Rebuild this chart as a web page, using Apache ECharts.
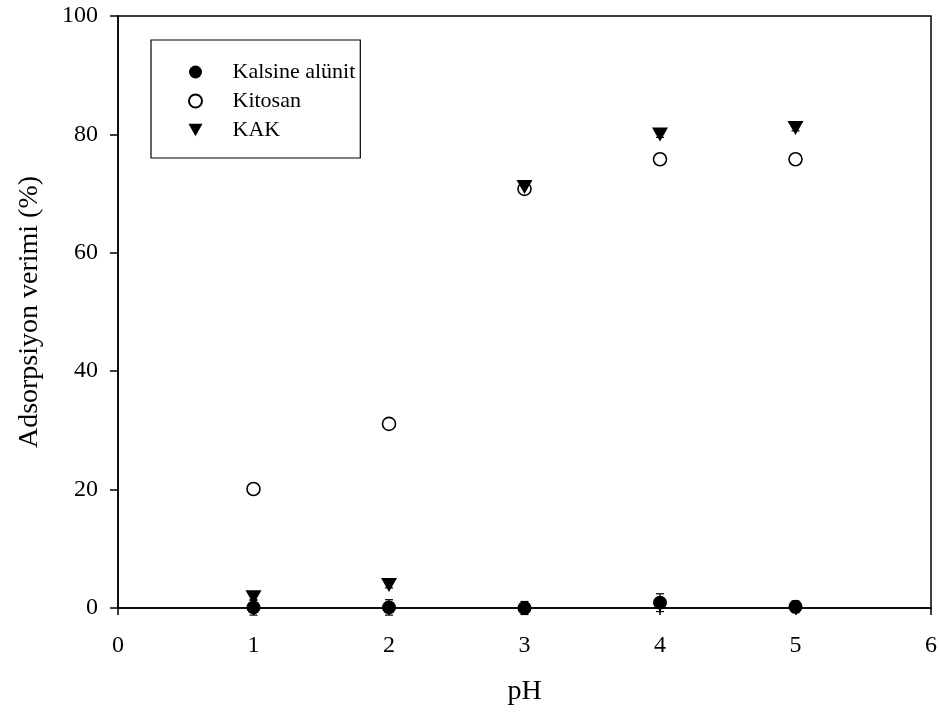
<!DOCTYPE html>
<html>
<head>
<meta charset="utf-8">
<script src="https://cdn.jsdelivr.net/npm/echarts@6/dist/echarts.min.js"></script>
<style>
  html, body { margin: 0; padding: 0; background: #fff; }
  #chart { width: 940px; height: 713px; }
</style>
</head>
<body>
<div id="chart"></div>
<script>
// pH values and adsorption efficiency (%) for each adsorbent
const pH = [1, 2, 3, 4, 5];
const kalsineAlunit = [0.1, 0.1, 0.0, 0.9, 0.2];
const kitosan = [20.1, 31.1, 70.8, 75.8, 75.8];
const kak = [1.8, 3.9, 71.1, 80.0, 81.1];

// standard deviations
const kalsineErr = [1.3, 1.3, 1.1, 1.5, 1.0];
const kitosanErr = [0.6, 0.5, 0.4, 0.6, 0.4];
const kakErr = [0.5, 0.5, 0.4, 0.5, 0.5];

const xTicks = [0, 1, 2, 3, 4, 5, 6];
const yTicks = [0, 20, 40, 60, 80, 100];

const FONT = '"Liberation Serif", "Times New Roman", serif';
const TRI_DOWN = 'path://M0,0 L10,0 L5,9 Z';

function pairs(ys) { return pH.map((x, i) => [x, ys[i]]); }
function errData(ys, es) { return pH.map((x, i) => [x, ys[i] - es[i], ys[i] + es[i]]); }

function errorSeries(ys, es) {
  return {
    type: 'custom',
    silent: true,
    z: 1,
    data: errData(ys, es),
    encode: { x: 0, y: [1, 2] },
    renderItem: function (params, api) {
      const lo = api.coord([api.value(0), api.value(1)]);
      const hi = api.coord([api.value(0), api.value(2)]);
      const hw = 4;
      const style = { stroke: '#000', lineWidth: 1.2 };
      return {
        type: 'group',
        children: [
          { type: 'line', shape: { x1: lo[0], y1: lo[1], x2: hi[0], y2: hi[1] }, style: style },
          { type: 'line', shape: { x1: lo[0] - hw, y1: lo[1], x2: lo[0] + hw, y2: lo[1] }, style: style },
          { type: 'line', shape: { x1: hi[0] - hw, y1: hi[1], x2: hi[0] + hw, y2: hi[1] }, style: style }
        ]
      };
    }
  };
}

const chart = echarts.init(document.getElementById('chart'), null, { renderer: 'canvas' });

chart.setOption({
  animation: false,
  backgroundColor: '#fff',
  textStyle: { fontFamily: FONT, color: '#000' },
  grid: {
    left: 118, right: 6, top: 16, bottom: 105,
    show: true, borderColor: '#000', borderWidth: 1.5, backgroundColor: 'transparent'
  },
  legend: {
    left: 151, top: 40,
    orient: 'vertical',
    data: [
      { name: 'Kalsine alünit', icon: 'circle' },
      { name: 'Kitosan', icon: 'circle' },
      { name: 'KAK', icon: TRI_DOWN }
    ],
    itemWidth: 14, itemHeight: 13, itemGap: 7,
    padding: [21, 5, 17, 37],
    borderColor: '#000', borderWidth: 1.2,
    backgroundColor: '#fff',
    textStyle: { fontFamily: FONT, fontSize: 22, color: '#000', padding: [0, 0, 0, 25] }
  },
  xAxis: {
    type: 'value', min: 0, max: 6, interval: 1,
    name: 'pH', nameLocation: 'middle', nameGap: 70,
    nameTextStyle: { fontFamily: FONT, fontSize: 28, color: '#000' },
    axisLine: { show: true, lineStyle: { color: '#000', width: 1.5 } },
    axisTick: { show: true, inside: false, length: 7, lineStyle: { color: '#000', width: 1.5 } },
    axisLabel: {
      margin: 26, fontFamily: FONT, fontSize: 24, color: '#000',
      formatter: v => (xTicks.includes(v) ? String(v) : '')
    },
    splitLine: { show: false }
  },
  yAxis: {
    type: 'value', min: 0, max: 100, interval: 20,
    name: 'Adsorpsiyon verimi (%)', nameLocation: 'middle', nameGap: 74,
    nameTextStyle: { fontFamily: FONT, fontSize: 28, color: '#000' },
    axisLine: { show: true, lineStyle: { color: '#000', width: 1.5 } },
    axisTick: { show: true, inside: false, length: 8, lineStyle: { color: '#000', width: 1.5 } },
    axisLabel: {
      margin: 20, fontFamily: FONT, fontSize: 24, color: '#000',
      formatter: v => (yTicks.includes(v) ? String(v) : '')
    },
    splitLine: { show: false }
  },
  series: [
    errorSeries(kalsineAlunit, kalsineErr),
    errorSeries(kitosan, kitosanErr),
    errorSeries(kak, kakErr),
    {
      name: 'Kalsine alünit', type: 'scatter', z: 3,
      symbol: 'circle', symbolSize: 14,
      itemStyle: { color: '#000', opacity: 1 },
      data: pairs(kalsineAlunit)
    },
    {
      name: 'Kitosan', type: 'scatter', z: 3,
      symbol: 'circle', symbolSize: 13,
      itemStyle: { color: '#fff', borderColor: '#000', borderWidth: 1.6, opacity: 1 },
      data: pairs(kitosan)
    },
    {
      name: 'KAK', type: 'scatter', z: 4,
      symbol: 'triangle', symbolRotate: 180, symbolSize: [16, 14],
      itemStyle: { color: '#000', opacity: 1 },
      data: pairs(kak)
    }
  ]
});
</script>
</body>
</html>
